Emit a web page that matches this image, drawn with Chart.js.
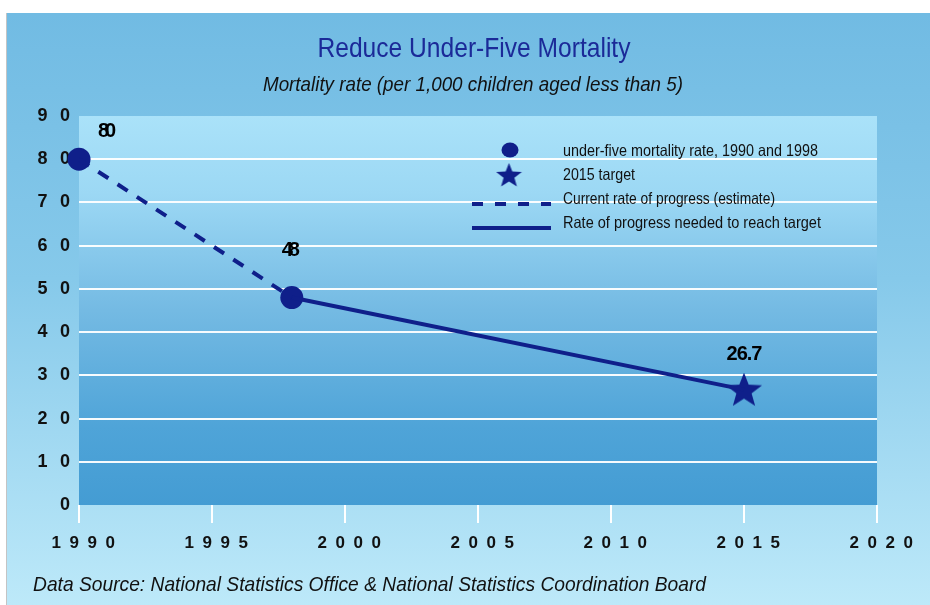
<!DOCTYPE html>
<html>
<head>
<meta charset="utf-8">
<title>Reduce Under-Five Mortality</title>
<script src="https://cdn.jsdelivr.net/npm/chart.js"></script>
<style>
  html, body { margin: 0; padding: 0; background: #fff; }
  canvas { display: block; }
</style>
</head>
<body>
<canvas id="mortalityChart" width="930" height="605"></canvas>
<script>
// Values
const observedYears = [1990, 1998];
const observedRates = [80, 48];
const targetYears = [2015];
const targetRates = [26.7];
const currentTrendYears = [1990, 1998];
const currentTrendRates = [80, 48];
const neededYears = [1998, 2015];
const neededRates = [48, 26.7];
const xTicks = [1990, 1995, 2000, 2005, 2010, 2015, 2020];
const yTicks = [0, 10, 20, 30, 40, 50, 60, 70, 80, 90];

const legendLabels = [
    'under-five mortality rate, 1990 and 1998',
    '2015 target',
    'Current rate of progress (estimate)',
    'Rate of progress needed to reach target'
];
const titleText = 'Reduce Under-Five Mortality';
const subtitleText = 'Mortality rate (per 1,000 children aged less than 5)';
const sourceText = 'Data Source: National Statistics Office & National Statistics Coordination Board';

const NAVY = '#0f1f8a';
const FONT = '"Liberation Sans Narrow", "Liberation Sans", Arial, sans-serif';

function toPoints(xs, ys) {
    return xs.map((x, i) => ({ x: x, y: ys[i] }));
}

// filled 5-point star as a canvas, used as pointStyle
function makeStar(w, h, color) {
    const c = document.createElement('canvas');
    c.width = w; c.height = h;
    const g = c.getContext('2d');
    const cx = w / 2, cy = h * 0.54;
    const rx = w / 2, ry = h * 0.54;
    g.beginPath();
    for (let i = 0; i < 10; i++) {
        const a = -Math.PI / 2 + i * Math.PI / 5;
        const k = i % 2 === 0 ? 1 : 0.42;
        const px = cx + Math.cos(a) * rx * k;
        const py = cy + Math.sin(a) * ry * k;
        if (i === 0) g.moveTo(px, py); else g.lineTo(px, py);
    }
    g.closePath();
    g.fillStyle = color;
    g.fill();
    return c;
}

const bigStar = makeStar(38, 34, NAVY);
const smallStar = makeStar(27, 24, NAVY);

// label offsets next to the marks (dataset index -> per point)
const labelOffsets = { 2: [[26, -28], [-3, -47]], 3: [[0, -35]] };

const backgroundPlugin = {
    id: 'backgrounds',
    beforeDraw(chart) {
        const ctx = chart.ctx;
        const a = chart.chartArea;
        ctx.save();
        const outer = ctx.createLinearGradient(0, 13, 0, 605);
        outer.addColorStop(0, '#71bbe3');
        outer.addColorStop(0.45, '#86c9ea');
        outer.addColorStop(1, '#bde9f9');
        ctx.fillStyle = outer;
        ctx.fillRect(6, 13, 924, 592);
        ctx.fillStyle = '#c4c4c4';
        ctx.fillRect(6, 13, 1, 592);

        const inner = ctx.createLinearGradient(0, a.top, 0, a.bottom);
        inner.addColorStop(0, '#aae2f9');
        inner.addColorStop(0.2, '#9cd8f4');
        inner.addColorStop(0.5, '#74bae3');
        inner.addColorStop(0.8, '#4fa4d8');
        inner.addColorStop(1, '#449cd3');
        ctx.fillStyle = inner;
        ctx.fillRect(a.left, a.top, a.right - a.left, a.bottom - a.top);

        // titles and source
        ctx.textAlign = 'center';
        ctx.textBaseline = 'alphabetic';
        ctx.fillStyle = '#1b2a98';
        ctx.font = '28px ' + FONT;
        ctx.fillText(titleText, 474, 57, 313);
        ctx.fillStyle = '#111';
        ctx.font = 'italic 21px ' + FONT;
        ctx.fillText(subtitleText, 473, 91, 420);
        ctx.textAlign = 'left';
        ctx.fillText(sourceText, 33, 591, 673);
        ctx.restore();
    }
};

const labelsPlugin = {
    id: 'valueLabels',
    afterDatasetsDraw(chart) {
        const ctx = chart.ctx;
        ctx.save();
        ctx.font = 'bold 20px ' + FONT;
        ctx.fillStyle = '#000';
        ctx.textAlign = 'center';
        ctx.textBaseline = 'middle';
        Object.keys(labelOffsets).forEach(di => {
            const meta = chart.getDatasetMeta(+di);
            const ds = chart.data.datasets[di];
            meta.data.forEach((el, i) => {
                const v = ds.data[i].y;
                const off = labelOffsets[di][i];
                ctx.letterSpacing = Number.isInteger(v) ? '-4px' : '-1px';
                ctx.fillText(String(v), el.x + off[0], el.y + off[1]);
            });
        });
        ctx.restore();
    }
};

const legendPlugin = {
    id: 'insideLegend',
    afterDraw(chart) {
        const ctx = chart.ctx;
        ctx.save();
        // markers
        ctx.fillStyle = NAVY;
        ctx.beginPath();
        ctx.ellipse(510, 150, 8.5, 7.5, 0, 0, Math.PI * 2);
        ctx.fill();
        ctx.drawImage(smallStar, 509 - smallStar.width / 2, 175 - smallStar.height / 2);
        ctx.strokeStyle = NAVY;
        ctx.lineWidth = 4;
        ctx.setLineDash([11, 12]);
        ctx.beginPath();
        ctx.moveTo(472, 204); ctx.lineTo(551, 204);
        ctx.stroke();
        ctx.setLineDash([]);
        ctx.beginPath();
        ctx.moveTo(472, 228); ctx.lineTo(551, 228);
        ctx.stroke();
        // texts
        ctx.fillStyle = '#111';
        ctx.font = '16.5px ' + FONT;
        ctx.textAlign = 'left';
        ctx.textBaseline = 'middle';
        const ys = [151, 175, 199, 223];
        const ws = [255, 72, 212, 258];
        legendLabels.forEach((t, i) => ctx.fillText(t, 563, ys[i], ws[i]));
        ctx.restore();
    }
};

const ctx = document.getElementById('mortalityChart').getContext('2d');
const mortalityChart = new Chart(ctx, {
    type: 'scatter',
    data: {
        datasets: [{
            label: legendLabels[2],
            data: toPoints(currentTrendYears, currentTrendRates),
            showLine: true,
            borderColor: NAVY,
            borderWidth: 4,
            borderDash: [12, 11],
            pointRadius: 0
        }, {
            label: legendLabels[3],
            data: toPoints(neededYears, neededRates),
            showLine: true,
            borderColor: NAVY,
            borderWidth: 4,
            pointRadius: 0
        }, {
            label: legendLabels[0],
            data: toPoints(observedYears, observedRates),
            pointStyle: 'circle',
            pointRadius: 11.5,
            backgroundColor: NAVY,
            borderColor: NAVY,
            borderWidth: 0
        }, {
            label: legendLabels[1],
            data: toPoints(targetYears, targetRates),
            pointStyle: bigStar,
            pointRadius: 18
        }]
    },
    options: {
        responsive: false,
        animation: false,
        devicePixelRatio: 1,
        layout: { padding: { top: 116, right: 53, left: 0, bottom: 0 } },
        datasets: { scatter: { clip: false } },
        plugins: { legend: { display: false }, tooltip: { enabled: false } },
        scales: {
            x: {
                type: 'linear',
                min: 1990,
                max: 2020,
                afterBuildTicks: s => { s.ticks = xTicks.map(v => ({ value: v })); },
                afterFit: s => { s.height = 100; },
                border: { display: false },
                grid: { drawOnChartArea: false, drawTicks: true, tickLength: 18, color: '#ffffff', lineWidth: 2 },
                ticks: {
                    padding: 10,
                    color: '#111',
                    font: { family: FONT, size: 17, weight: 'bold' },
                    maxRotation: 0,
                    callback: v => '\u2002' + String(v).split('').join('\u2002')
                }
            },
            y: {
                min: 0,
                max: 90,
                afterBuildTicks: s => { s.ticks = yTicks.map(v => ({ value: v })); },
                afterFit: s => { s.width = 79; },
                border: { display: false },
                grid: {
                    drawTicks: false,
                    lineWidth: 2,
                    color: c => (c.tick.value === 0 || c.tick.value === 90) ? 'rgba(0,0,0,0)' : 'rgba(255,255,255,0.95)'
                },
                ticks: {
                    padding: 9,
                    color: '#111',
                    font: { family: FONT, size: 18, weight: 'bold' },
                    callback: v => String(v).split('').join('\u2002\u2009')
                }
            }
        }
    },
    plugins: [backgroundPlugin, labelsPlugin, legendPlugin]
});
</script>
</body>
</html>
